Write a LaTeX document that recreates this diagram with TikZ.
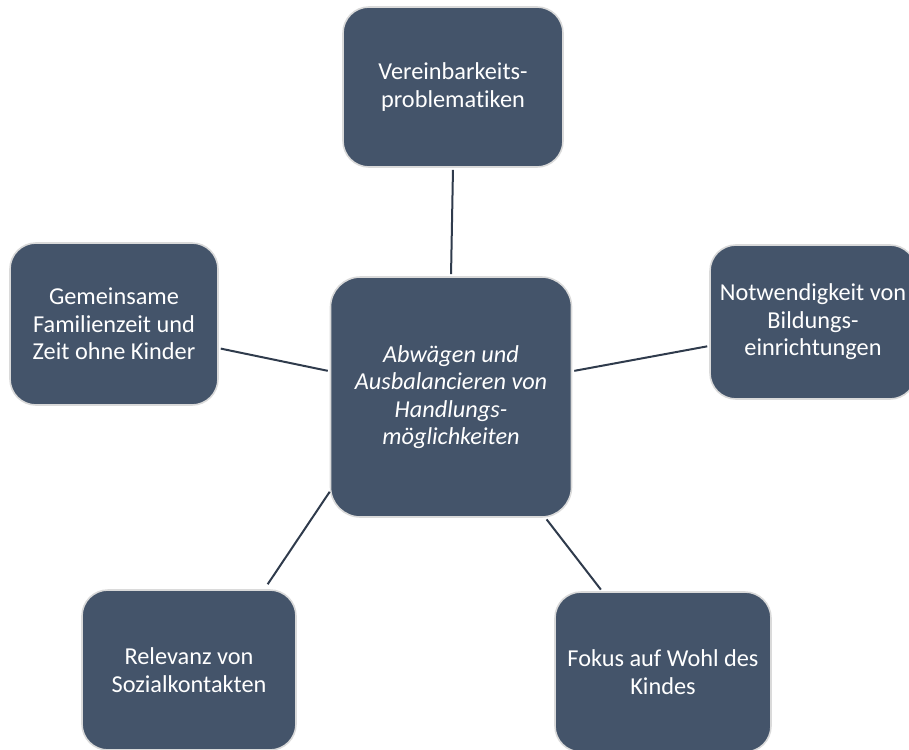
\documentclass[tikz,border=0pt]{standalone}
\usepackage{fontspec}
\setmainfont[Ligatures={NoCommon}]{Carlito}
\definecolor{boxfill}{HTML}{44546A}
\definecolor{boxedge}{HTML}{DADADA}
\definecolor{linkcol}{HTML}{2F3B4C}
\begin{document}
\begin{tikzpicture}[x=1pt,y=-1pt,
  topic/.style={draw=boxedge, line width=1.6pt, fill=boxfill, rounded corners=26pt,
    text=white, align=center, inner sep=0pt,
    font=\fontsize{24.3}{27.5}\selectfont},
  link/.style={draw=linkcol, line width=2pt, shorten <=2pt, shorten >=2pt}]
\useasboundingbox (0,0) rectangle (909,749);
\clip (0,0) rectangle (909,749);
\node[topic, minimum width=220pt, minimum height=160pt] (top) at (453,87) {Vereinbarkeits-\\problematiken};
\node[topic, minimum width=208pt, minimum height=162pt] (left) at (114,324) {Gemeinsame\\Familienzeit und\\Zeit ohne Kinder};
\node[topic, minimum width=241pt, minimum height=240pt, rounded corners=30pt] (center) at (451,397) {\itshape Abwägen und\\\itshape Ausbalancieren von\\\itshape Handlungs-\\\itshape möglichkeiten};
\node[topic, minimum width=206pt, minimum height=154pt] (right) at (813,322) {Notwendigkeit von\\Bildungs-\\einrichtungen};
\node[topic, minimum width=214pt, minimum height=160pt] (bl) at (189,670) {Relevanz von\\Sozialkontakten};
\node[topic, minimum width=216pt, minimum height=160pt] (br) at (663,672) {Fokus auf Wohl des\\Kindes};
\draw[link] (top.south) -- (center.north);
\draw[link] (center.168) -- (left.-13);
\draw[link] (center.12) -- (right.193);
\draw[link, shorten <=0pt, shorten >=6pt] (center.218) -- (bl.47);
\draw[link] (center.-52) -- (br.127);
\end{tikzpicture}
\end{document}
